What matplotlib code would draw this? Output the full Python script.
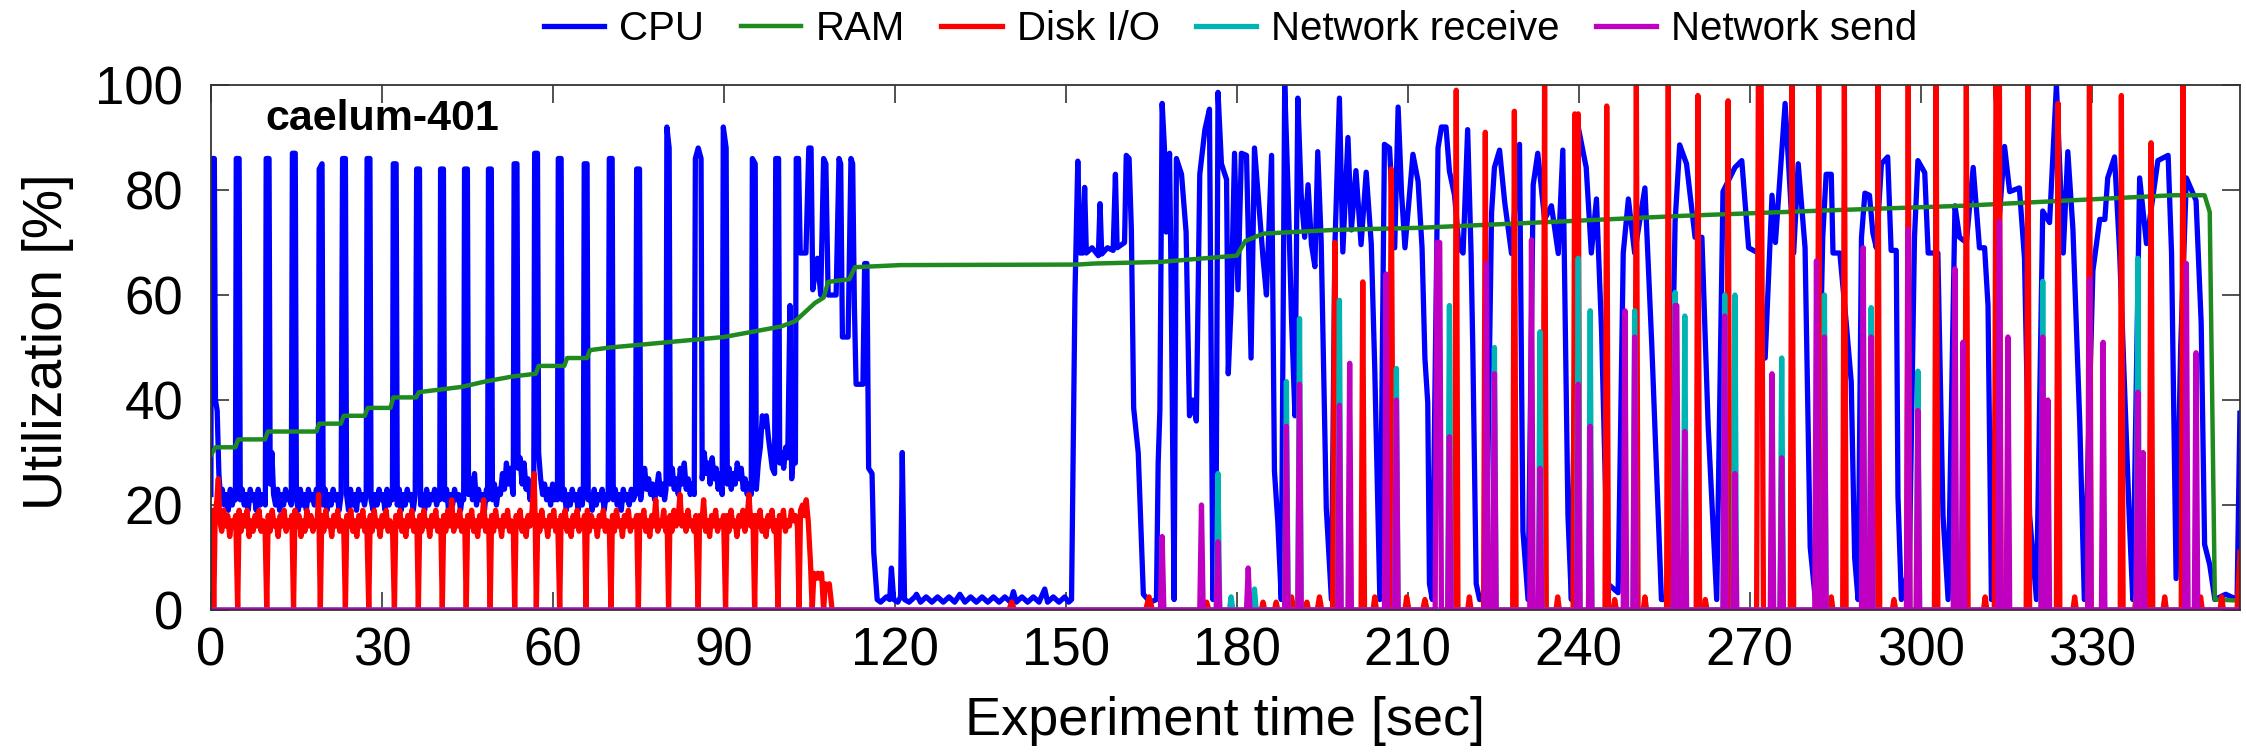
import matplotlib
matplotlib.use("Agg")
import matplotlib.pyplot as plt

plt.rcParams['font.family'] = ['Liberation Sans', 'DejaVu Sans']

# ---- data: (time [sec], utilization [%]) ----
cpu = [
    (0.0, 22), (0.1, 86), (0.6, 86), (0.8, 40), (1.1, 38), (1.4, 26), (1.7, 21), (2.0, 23), (2.35, 20), (2.7, 22),
    (3.05, 19), (3.4, 23), (3.75, 20), (4.1, 22), (4.3, 21), (4.45, 86), (4.95, 86), (5.15, 21), (5.5, 23),
    (5.85, 20), (6.2, 22), (6.55, 19), (6.9, 23), (7.25, 21), (7.6, 22), (7.95, 19), (8.3, 23), (8.65, 20),
    (9.0, 22), (9.35, 21), (9.55, 20), (9.7, 86), (10.2, 86), (10.4, 24), (10.7, 30), (11.0, 22), (11.35, 20),
    (11.7, 23), (12.05, 19), (12.4, 22), (12.75, 20), (13.1, 23), (13.45, 21), (13.8, 22), (14.1, 20),
    (14.3, 87), (14.8, 87), (15.0, 21), (15.35, 19), (15.7, 23), (16.05, 20), (16.4, 22), (16.75, 19),
    (17.1, 23), (17.45, 21), (17.8, 22), (18.15, 20), (18.5, 23), (18.85, 21), (19.0, 84), (19.5, 85),
    (19.7, 20), (20.05, 23), (20.4, 19), (20.75, 22), (21.1, 20), (21.45, 23), (21.8, 21), (22.15, 22),
    (22.5, 19), (22.85, 22), (23.1, 86), (23.6, 86), (23.8, 22), (24.15, 19), (24.5, 23), (24.85, 20),
    (25.2, 22), (25.55, 19), (25.9, 23), (26.25, 21), (26.6, 22), (26.95, 20), (27.25, 22), (27.4, 86),
    (27.9, 86), (28.1, 21), (28.45, 19), (28.8, 22), (29.15, 20), (29.5, 23), (29.85, 21), (30.2, 22),
    (30.55, 19), (30.9, 23), (31.25, 20), (31.6, 22), (31.85, 21), (32.0, 85), (32.5, 85), (32.7, 20),
    (33.05, 23), (33.4, 19), (33.75, 22), (34.1, 20), (34.45, 23), (34.8, 21), (35.15, 22), (35.5, 19),
    (35.85, 22), (36.1, 84), (36.6, 84), (36.8, 20), (37.15, 22), (37.5, 19), (37.85, 23), (38.2, 20),
    (38.55, 22), (38.9, 21), (39.25, 23), (39.6, 20), (39.95, 22), (40.15, 21), (40.3, 84), (40.8, 84),
    (41.0, 21), (41.35, 23), (41.7, 19), (42.05, 22), (42.4, 20), (42.75, 23), (43.1, 21), (43.45, 22),
    (43.8, 19), (44.15, 22), (44.35, 21), (44.5, 84), (45.0, 84), (45.2, 22), (45.55, 25), (45.9, 21),
    (46.25, 26), (46.6, 20), (46.95, 23), (47.3, 21), (47.65, 22), (48.0, 19), (48.35, 23), (48.55, 21),
    (48.7, 84), (49.2, 84), (49.4, 21), (49.75, 24), (50.1, 20), (50.45, 23), (50.8, 22), (51.15, 26),
    (51.5, 23), (51.85, 28), (52.2, 24), (52.55, 27), (52.9, 23), (53.05, 22), (53.2, 85), (53.7, 85),
    (53.9, 27), (54.25, 29), (54.6, 24), (54.95, 28), (55.3, 23), (55.65, 25), (56.0, 21), (56.35, 24),
    (56.65, 23), (56.8, 87), (57.3, 87), (57.5, 30), (57.85, 25), (58.2, 22), (58.55, 24), (58.9, 21),
    (59.25, 23), (59.6, 20), (59.95, 24), (60.3, 21), (60.65, 22), (60.8, 21), (60.95, 86), (61.45, 86),
    (61.65, 21), (62.0, 23), (62.35, 19), (62.7, 22), (63.05, 20), (63.4, 23), (63.75, 21), (64.1, 22),
    (64.45, 19), (64.8, 23), (65.15, 20), (65.35, 22), (65.5, 85), (66.0, 85), (66.2, 21), (66.55, 22),
    (66.9, 19), (67.25, 23), (67.6, 20), (67.95, 22), (68.3, 21), (68.65, 23), (69.0, 19), (69.35, 22),
    (69.7, 21), (69.9, 86), (70.4, 86), (70.6, 21), (70.95, 23), (71.3, 20), (71.65, 22), (72.0, 19),
    (72.35, 23), (72.7, 21), (73.05, 22), (73.4, 20), (73.75, 23), (74.1, 21), (74.5, 22), (74.7, 84),
    (75.2, 84), (75.4, 21), (75.75, 24), (76.1, 27), (76.45, 23), (76.8, 25), (77.15, 22), (77.5, 24),
    (77.85, 21), (78.2, 23), (78.55, 26), (78.9, 22), (79.25, 24), (79.6, 21), (79.85, 23), (80.0, 92),
    (80.4, 88), (80.6, 24), (80.95, 27), (81.3, 23), (81.65, 25), (82.0, 22), (82.35, 27), (82.7, 24),
    (83.05, 28), (83.4, 23), (83.75, 25), (84.1, 22), (84.45, 24), (84.8, 22), (85.0, 86), (85.5, 88),
    (86.0, 86), (86.2, 25), (86.55, 30), (86.9, 26), (87.25, 28), (87.6, 24), (87.95, 29), (88.3, 25),
    (88.65, 27), (89.0, 23), (89.35, 26), (89.7, 22), (89.9, 92), (90.4, 88), (90.6, 24), (90.95, 27),
    (91.3, 23), (91.65, 26), (92.0, 24), (92.35, 28), (92.7, 25), (93.05, 27), (93.4, 23), (93.75, 25),
    (94.1, 22), (94.45, 24), (94.8, 22), (95.0, 86), (95.5, 85), (95.7, 23), (96.05, 28), (96.4, 31),
    (96.75, 37), (97.1, 35), (97.45, 37), (97.8, 33), (98.15, 30), (98.5, 27), (98.9, 26), (99.1, 86),
    (99.6, 86), (99.8, 28), (100.15, 30), (100.5, 27), (100.85, 31), (101.2, 29), (101.6, 58), (101.9, 25),
    (102.25, 30), (102.55, 28), (102.7, 86), (103.1, 86), (103.4, 68), (104.4, 68), (104.9, 88), (105.3, 88),
    (105.6, 61), (106.4, 67), (107.0, 60), (107.5, 86), (107.9, 85), (108.3, 60), (109.7, 60), (110.2, 86),
    (110.5, 85), (110.8, 52), (111.8, 52), (112.3, 86), (112.6, 85), (112.9, 58), (113.2, 43), (114.4, 43),
    (114.7, 66), (115.1, 66), (115.4, 27), (116.0, 26), (116.3, 11), (116.9, 2), (117.5, 1.5), (118.5, 2.5),
    (119.1, 2), (119.4, 8), (119.8, 2), (120.5, 1.5), (121.0, 2.5), (121.3, 30), (121.7, 2), (122.5, 1.5),
    (123.5, 2.5), (123.8, 3), (124.5, 1.5), (125.5, 2.5), (126.5, 1.5), (127.5, 2.5), (128.5, 1.5),
    (129.5, 2.5), (130.5, 1.5), (131.4, 3), (132.3, 1.5), (133.3, 2.5), (134.3, 1.5), (135.3, 2.5),
    (136.3, 1.5), (137.3, 2.5), (138.3, 1.5), (139.3, 2.5), (140.3, 1.5), (140.8, 3.5), (141.3, 1.5),
    (142.3, 2.5), (143.3, 1.5), (144.3, 2.5), (145.3, 1.5), (146.3, 4), (146.8, 1.5), (147.8, 2.5),
    (148.8, 1.5), (149.8, 2.5), (150.5, 1.5), (151.0, 2),
    (151.6, 60), (152.1, 85.5), (152.5, 68), (153.0, 68), (153.3, 80.5), (153.6, 68), (154.6, 69),
    (155.7, 67.5), (156.0, 77.4), (156.3, 67.8), (157.3, 69), (158.3, 68.5), (158.7, 83), (159.0, 69),
    (160.3, 70), (160.6, 86.6), (161.1, 86), (161.5, 72.4), (161.9, 38.5), (162.7, 30), (163.6, 3),
    (164.8, 1.5), (165.9, 2), (166.2, 28), (166.5, 38), (166.9, 96.5), (167.3, 88), (167.6, 72), (168.2, 87),
    (168.5, 60), (169.0, 2), (169.4, 86), (170.3, 83), (171.1, 72), (171.7, 37), (172.3, 40), (172.9, 36),
    (173.5, 83), (174.4, 91.5), (175.2, 95.4), (175.8, 2), (176.4, 26), (176.7, 98.6), (177.3, 85),
    (178.2, 82), (178.5, 45), (179.0, 58), (179.6, 87), (180.2, 61), (180.8, 87), (181.7, 86.6), (182.5, 48),
    (183.1, 88), (183.7, 79.5), (184.6, 67), (185.2, 60), (186.1, 86.6), (186.6, 26.5), (187.2, 16.6),
    (187.8, 2), (188.4, 100), (189.0, 79.5), (189.6, 55.5), (190.2, 37), (190.7, 97.5), (191.3, 79),
    (191.9, 71), (192.5, 81), (193.1, 69.6), (193.7, 65.4), (194.2, 87.3), (194.8, 70.3), (195.7, 19.4),
    (196.6, 2), (197.2, 69), (198.0, 97.5), (198.6, 68.2), (199.5, 90), (200.1, 72.4), (200.9, 83.7),
    (201.8, 69.6), (202.7, 83.4), (203.6, 69.6), (204.2, 46), (205.1, 2), (205.9, 88.7), (206.8, 88),
    (207.7, 69), (208.3, 95.8), (208.9, 79.5), (209.5, 69), (210.9, 86.8), (211.8, 81.7), (212.5, 69),
    (213.0, 48), (213.5, 39.5), (213.8, 5), (214.3, 2), (215.3, 88), (215.9, 92), (216.7, 92), (217.3, 83.6),
    (218.2, 79), (219.0, 69), (219.7, 68), (220.5, 91.5), (221.1, 68), (221.4, 50), (222.0, 5), (222.6, 2),
    (223.7, 2), (224.7, 75.7), (225.2, 84.3), (226.1, 87.6), (227.0, 77.7), (228.2, 67.9), (229.6, 88.7),
    (230.2, 15), (231.1, 2), (232.0, 81), (232.8, 87), (234.0, 74.4), (235.2, 77), (236.4, 67.9),
    (237.2, 87.6), (238.1, 18), (238.7, 2), (239.9, 92), (241.3, 84.3), (242.2, 68), (243.1, 78.3),
    (244.0, 53), (245.1, 5), (246.9, 3.3), (247.8, 68), (248.7, 78.3), (249.8, 68), (251.6, 80.4),
    (252.8, 50.7), (254.5, 2), (255.7, 2), (256.9, 74), (257.7, 88.6), (258.9, 85), (260.4, 71), (261.6, 71),
    (262.7, 35), (264.2, 2), (265.3, 79.7), (267.4, 84.3), (268.6, 85.6), (269.8, 69), (271.5, 68),
    (272.7, 48), (273.9, 79), (274.5, 70), (276.2, 96.5), (277.7, 68), (278.5, 85), (279.7, 69), (280.6, 12),
    (281.5, 2), (282.8, 71), (283.4, 83), (284.3, 83), (284.6, 68), (285.8, 68), (286.9, 55), (287.8, 43.5),
    (288.4, 10), (289.0, 2), (289.6, 71), (290.2, 79.4), (291.0, 79), (291.6, 71.8), (292.2, 69), (293.1, 85),
    (294.2, 86.3), (294.8, 68.5), (295.7, 68.5), (296.0, 21.7), (296.6, 2), (298.0, 8.6), (298.9, 71),
    (299.5, 85.6), (300.7, 83.3), (301.3, 68), (303.0, 68), (303.9, 18), (304.8, 2), (306.0, 77), (306.8, 71),
    (308.0, 70), (309.2, 84.3), (310.3, 69), (311.2, 69), (311.8, 58), (312.4, 2), (313.8, 75), (314.7, 88.3),
    (315.6, 79.7), (317.3, 80.4), (318.2, 67), (319.1, 18), (320.3, 2), (321.4, 76), (322.6, 73.8),
    (323.8, 100), (325.0, 68), (325.8, 87.3), (326.7, 72.5), (327.9, 35.6), (328.7, 2), (330.2, 64.6),
    (331.4, 74.4), (332.3, 74.4), (332.8, 82.3), (334.0, 86.3), (334.9, 68), (336.6, 17), (337.2, 2),
    (338.4, 82.3), (339.6, 69.8), (341.6, 85.6), (343.4, 86.6), (344.0, 68), (344.8, 6), (345.6, 50),
    (346.6, 82.3), (348.3, 78), (349.2, 54.7), (349.8, 12.5), (350.7, 8.6), (351.6, 2), (353.5, 3),
    (355.5, 2), (356.0, 37.5),
]

ram = [
    (0.0, 29.5), (0.8, 31), (4.3, 31), (4.8, 32.5), (9.5, 32.5), (10.0, 34), (18.5, 34), (19.0, 35.5),
    (22.8, 35.5), (23.3, 37), (27.0, 37), (27.5, 38.5), (31.5, 38.5), (32.0, 40.5), (36.0, 40.5), (36.5, 41.5),
    (44.0, 42.5), (48.0, 43.5), (53.0, 44.5), (57.0, 45), (57.5, 46.5), (62.0, 46.5), (62.5, 48), (66.0, 48),
    (66.5, 49.5), (70.0, 50), (75.0, 50.5), (80.0, 51), (85.0, 51.5), (90.0, 52), (95.0, 53), (100.0, 54),
    (102.5, 55), (104.0, 56.5), (106.0, 58.5), (107.5, 59.5), (108.3, 62.5), (112.0, 63), (113.0, 65.3),
    (121.0, 65.7), (152.0, 65.8), (155.0, 66), (166.5, 66.3), (180.0, 67.5), (181.5, 70.3), (184.7, 71.7),
    (197.0, 72.4), (212.0, 72.8), (238.7, 74.1), (258.6, 75.1), (283.2, 76.1), (307.4, 77), (344.2, 79),
    (349.8, 79), (350.7, 75.8), (351.6, 2), (356.0, 1.8),
]

disk = [
    (0.0, 0), (0.2, 19), (0.5, 0), (0.75, 18), (1.05, 21), (1.3, 25), (1.55, 17), (1.9, 15), (2.25, 19),
    (2.6, 16), (2.95, 18), (3.3, 14), (3.65, 17), (4.0, 16), (4.35, 18), (4.7, 0), (4.95, 19), (5.3, 15),
    (5.65, 18), (6.0, 16), (6.35, 19), (6.7, 14), (7.05, 17), (7.4, 15), (7.75, 18), (8.1, 16), (8.45, 19),
    (8.8, 15), (9.15, 17), (9.5, 16), (9.8, 0), (10.05, 18), (10.4, 15), (10.75, 19), (11.1, 16), (11.45, 17),
    (11.8, 14), (12.15, 18), (12.5, 16), (12.85, 19), (13.2, 15), (13.55, 17), (13.9, 16), (14.2, 18),
    (14.5, 0), (14.75, 19), (15.1, 16), (15.45, 18), (15.8, 14), (16.15, 17), (16.5, 15), (16.85, 19),
    (17.2, 16), (17.55, 18), (17.9, 15), (18.25, 17), (18.6, 16), (18.9, 22), (19.2, 0), (19.45, 18),
    (19.8, 15), (20.15, 19), (20.5, 16), (20.85, 17), (21.2, 14), (21.55, 18), (21.9, 16), (22.25, 19),
    (22.6, 15), (22.95, 17), (23.3, 16), (23.6, 0), (23.85, 18), (24.2, 16), (24.55, 19), (24.9, 15),
    (25.25, 17), (25.6, 14), (25.95, 18), (26.3, 16), (26.65, 19), (27.0, 15), (27.35, 17), (27.7, 0),
    (27.95, 18), (28.3, 15), (28.65, 19), (29.0, 16), (29.35, 17), (29.7, 14), (30.05, 18), (30.4, 16),
    (30.75, 19), (31.1, 15), (31.45, 17), (31.85, 16), (32.2, 0), (32.45, 18), (32.8, 16), (33.15, 19),
    (33.5, 15), (33.85, 17), (34.2, 14), (34.55, 18), (34.9, 16), (35.25, 19), (35.6, 15), (35.95, 17),
    (36.15, 16), (36.4, 0), (36.65, 18), (37.0, 15), (37.35, 19), (37.7, 16), (38.05, 17), (38.4, 14),
    (38.75, 18), (39.1, 16), (39.45, 19), (39.8, 15), (40.15, 17), (40.35, 16), (40.6, 0), (40.85, 18),
    (41.2, 15), (41.55, 19), (41.9, 16), (42.25, 21), (42.6, 15), (42.95, 18), (43.3, 16), (43.65, 19),
    (44.0, 15), (44.35, 17), (44.55, 16), (44.8, 0), (45.05, 18), (45.4, 16), (45.75, 19), (46.1, 15),
    (46.45, 17), (46.8, 14), (47.15, 18), (47.5, 16), (47.85, 21), (48.2, 15), (48.55, 17), (48.75, 16),
    (49.0, 0), (49.25, 18), (49.6, 15), (49.95, 19), (50.3, 16), (50.65, 17), (51.0, 14), (51.35, 18),
    (51.7, 16), (52.05, 19), (52.4, 15), (52.75, 17), (53.05, 16), (53.3, 0), (53.55, 18), (53.9, 16),
    (54.25, 19), (54.6, 15), (54.95, 17), (55.3, 14), (55.65, 18), (56.0, 16), (56.35, 19), (56.7, 26),
    (56.9, 17), (57.1, 0), (57.35, 18), (57.7, 15), (58.05, 19), (58.4, 16), (58.75, 17), (59.1, 14),
    (59.45, 18), (59.8, 16), (60.15, 19), (60.5, 15), (60.85, 17), (61.2, 0), (61.45, 18), (61.8, 16),
    (62.15, 19), (62.5, 15), (62.85, 17), (63.2, 14), (63.55, 18), (63.9, 16), (64.25, 19), (64.6, 15),
    (64.95, 17), (65.3, 16), (65.55, 18), (65.8, 0), (66.05, 19), (66.4, 15), (66.75, 18), (67.1, 16),
    (67.45, 17), (67.8, 14), (68.15, 18), (68.5, 16), (68.85, 19), (69.2, 15), (69.55, 17), (69.9, 16),
    (70.2, 0), (70.45, 18), (70.8, 15), (71.15, 19), (71.5, 16), (71.85, 17), (72.2, 14), (72.55, 18),
    (72.9, 16), (73.25, 19), (73.6, 15), (73.95, 17), (74.3, 16), (74.7, 18), (75.0, 0), (75.25, 18),
    (75.6, 16), (75.95, 19), (76.3, 15), (76.65, 17), (77.0, 14), (77.35, 18), (77.7, 16), (78.05, 21),
    (78.4, 15), (78.75, 17), (79.1, 16), (79.45, 19), (79.8, 15), (80.05, 17), (80.3, 0), (80.55, 18),
    (80.9, 15), (81.25, 19), (81.6, 16), (81.95, 17), (82.3, 22), (82.65, 16), (83.0, 18), (83.35, 15),
    (83.7, 19), (84.05, 16), (84.4, 17), (84.75, 15), (85.1, 18), (85.5, 0), (85.75, 18), (86.1, 16),
    (86.45, 21), (86.8, 15), (87.15, 17), (87.5, 14), (87.85, 18), (88.2, 16), (88.55, 19), (88.9, 15),
    (89.25, 17), (89.6, 16), (89.95, 18), (90.3, 0), (90.55, 18), (90.9, 15), (91.25, 19), (91.6, 16),
    (91.95, 17), (92.3, 14), (92.65, 18), (93.0, 16), (93.35, 19), (93.7, 15), (94.05, 17), (94.4, 22),
    (94.75, 16), (95.1, 18), (95.4, 0), (95.65, 18), (96.0, 16), (96.35, 19), (96.7, 15), (97.05, 17),
    (97.4, 14), (97.75, 18), (98.1, 16), (98.45, 19), (98.8, 15), (99.15, 17), (99.5, 0), (99.75, 18),
    (100.1, 16), (100.45, 19), (100.8, 15), (101.15, 17), (101.5, 16), (101.85, 19), (102.2, 17),
    (102.55, 18), (102.9, 16), (103.2, 0), (103.45, 19), (103.8, 20), (104.1, 18), (104.45, 21), (104.8, 17),
    (105.2, 9), (105.5, 0), (105.8, 7), (106.15, 6), (106.5, 7), (106.85, 6), (107.15, 7), (107.5, 0),
    (107.8, 5), (108.15, 4), (108.5, 5), (109.0, 0),
    (140.0, 0), (140.5, 1.5), (141.0, 0), (164.0, 0), (164.6, 2.5), (165.2, 0), (174.3, 0), (174.7, 1.5),
    (175.1, 0), (184.3, 0), (184.6, 1.5), (184.9, 0), (186.6, 0), (186.9, 1.5), (187.2, 0), (189.2, 0),
    (189.6, 2.5), (190.0, 0), (192.0, 0), (192.3, 1.5), (192.6, 0), (194.1, 0), (194.5, 2.5), (194.9, 0),
    (196.8, 0), (197.2, 70), (197.6, 0), (201.8, 0), (202.1, 62.5), (202.4, 0), (203.9, 0), (204.2, 2.5),
    (204.5, 0), (206.7, 0), (207.1, 84), (207.5, 0), (209.5, 0), (209.8, 2.5), (210.2, 0), (212.6, 0),
    (213.0, 2), (213.4, 0), (218.2, 0), (218.5, 99), (218.8, 0), (220.5, 0), (220.8, 2.5), (221.1, 0),
    (223.3, 0), (223.6, 91), (223.9, 0), (228.4, 0), (228.7, 95), (229.0, 0), (233.7, 0), (234.0, 100),
    (234.3, 0), (236.0, 0), (236.3, 2.5), (236.6, 0), (239.0, 0), (239.3, 94.5), (239.6, 80), (239.9, 94.5),
    (240.2, 0), (244.6, 0), (244.9, 96), (245.2, 0), (246.0, 0), (246.3, 2), (246.6, 0), (249.8, 0),
    (250.1, 100), (250.4, 0), (251.3, 0), (251.6, 2.5), (251.9, 0), (255.4, 0), (255.7, 100), (256.0, 0),
    (260.6, 0), (260.9, 98), (261.2, 0), (262.0, 0), (262.2, 2), (262.5, 0), (265.9, 0), (266.2, 97),
    (266.5, 0), (271.2, 0), (271.5, 100), (272.0, 100), (272.4, 0), (277.1, 0), (277.4, 100), (277.7, 0),
    (281.8, 0), (282.1, 100), (282.4, 0), (284.0, 0), (284.3, 2.5), (284.6, 0), (286.3, 0), (286.6, 100),
    (286.9, 0), (292.2, 0), (292.5, 100), (292.8, 0), (295.0, 0), (295.3, 2), (295.6, 0), (297.5, 0),
    (297.8, 100), (298.1, 0), (302.4, 0), (302.7, 100), (303.0, 0), (307.7, 0), (308.0, 100), (308.3, 0),
    (311.0, 0), (311.3, 2.5), (311.6, 0), (312.9, 0), (313.2, 100), (313.5, 90), (313.8, 100), (314.1, 0),
    (318.5, 0), (318.8, 100), (319.1, 0), (321.6, 0), (321.9, 2.5), (322.2, 0), (323.8, 0), (324.1, 96.5),
    (324.4, 0), (326.7, 0), (327.0, 2.5), (327.3, 0), (329.3, 0), (329.6, 100), (329.9, 0), (335.0, 0),
    (335.2, 98), (335.5, 0), (337.5, 0), (337.8, 2.5), (338.1, 0), (340.1, 0), (340.4, 89), (340.7, 0),
    (342.5, 0), (342.8, 2.5), (343.1, 0), (345.7, 0), (346.0, 100), (346.3, 0), (348.8, 0), (349.1, 2.5),
    (349.4, 0), (352.5, 0), (352.8, 2.5), (353.1, 0), (355.5, 0), (356.0, 11),
]

net_recv = [
    (0.0, 0), (176.4, 0), (176.7, 26), (177.0, 0), (178.7, 0), (179.0, 2.5), (179.3, 0), (182.8, 0), (183.1, 4),
    (183.4, 0), (188.4, 0), (188.7, 43.5), (189.0, 0), (190.7, 0), (191.0, 55.5), (191.3, 0), (197.7, 0),
    (198.0, 59), (198.3, 0), (207.7, 0), (208.0, 46), (208.3, 0), (217.0, 0), (217.3, 58), (217.6, 0),
    (224.9, 0), (225.2, 50), (225.5, 0), (232.9, 0), (233.2, 53), (233.5, 0), (239.6, 0), (239.9, 67),
    (240.2, 0), (241.7, 0), (242.0, 57), (242.3, 0), (249.5, 0), (249.8, 57), (250.1, 0), (256.6, 0),
    (256.9, 60.5), (257.2, 0), (258.3, 0), (258.6, 56), (258.9, 0), (265.3, 0), (265.6, 60), (265.9, 0),
    (267.1, 0), (267.4, 60), (267.7, 0), (275.3, 0), (275.6, 48), (275.9, 0), (282.8, 0), (283.1, 60),
    (283.4, 0), (291.0, 0), (291.3, 57.6), (291.6, 0), (299.2, 0), (299.5, 45.5), (299.8, 0), (321.1, 0),
    (321.4, 62.6), (321.7, 0), (337.8, 0), (338.1, 67), (338.4, 0), (356.0, 0),
]

net_send = [
    (0.0, 0), (166.6, 0), (166.9, 14), (167.2, 0), (173.5, 0), (173.8, 20), (174.1, 0), (176.4, 0), (176.7, 13),
    (177.0, 0), (181.7, 0), (182.0, 8), (182.3, 0), (188.4, 0), (188.7, 35), (189.0, 0), (190.7, 0), (191.0, 43),
    (191.3, 0), (197.7, 0), (198.0, 39), (198.3, 0), (199.5, 0), (199.8, 47), (200.1, 0), (205.9, 0),
    (206.2, 64), (206.5, 0), (207.7, 0), (208.0, 40), (208.3, 0), (214.8, 0), (215.1, 70), (215.6, 70),
    (215.9, 0), (217.0, 0), (217.3, 33), (217.6, 0), (223.5, 0), (223.8, 66), (224.1, 0), (224.9, 0),
    (225.2, 45), (225.5, 0), (231.4, 0), (231.7, 70.5), (232.0, 0), (232.9, 0), (233.2, 27), (233.5, 0),
    (239.6, 0), (239.9, 43), (240.2, 0), (241.7, 0), (242.0, 35), (242.3, 0), (247.8, 0), (248.1, 57),
    (248.4, 0), (249.5, 0), (249.8, 52), (250.1, 0), (256.6, 0), (256.9, 58), (257.2, 58), (257.5, 0),
    (258.3, 0), (258.6, 34), (258.9, 0), (265.3, 0), (265.6, 56), (265.9, 0), (267.1, 0), (267.4, 26),
    (267.7, 0), (273.6, 0), (273.9, 45), (274.2, 0), (275.3, 0), (275.6, 29), (275.9, 0), (281.4, 0),
    (281.7, 66.5), (282.0, 0), (282.8, 0), (283.1, 52), (283.4, 0), (289.6, 0), (289.9, 69), (290.2, 0),
    (291.0, 0), (291.3, 52), (291.6, 0), (297.5, 0), (297.8, 72.5), (298.1, 0), (299.2, 0), (299.5, 38),
    (299.8, 0), (305.7, 0), (306.0, 65), (306.3, 0), (307.1, 0), (307.4, 51), (307.7, 0), (313.5, 0),
    (313.8, 74), (314.1, 0), (315.0, 0), (315.3, 52), (315.6, 0), (321.1, 0), (321.4, 52), (321.7, 0),
    (322.0, 0), (322.3, 40), (322.6, 0), (329.3, 0), (329.6, 63), (329.9, 0), (331.7, 0), (332.0, 51),
    (332.3, 0), (337.8, 0), (338.1, 41.5), (338.4, 0), (338.7, 0), (339.0, 30), (339.3, 0), (346.3, 0),
    (346.6, 66), (346.9, 0), (348.0, 0), (348.3, 49), (348.6, 0), (356.0, 0),
]

series = [
    ("CPU", cpu, "#0000ff", 3.8),
    ("RAM", ram, "#1f8a1f", 3.2),
    ("Disk I/O", disk, "#ff0000", 3.8),
    ("Network receive", net_recv, "#00b4b4", 3.8),
    ("Network send", net_send, "#c000c0", 3.8),
]

fig = plt.figure(figsize=(22.46, 7.55), dpi=100)
ax = fig.add_axes([0.0939, 0.192, 0.9034, 0.6954])

for name, pts, col, w in series:
    t, v = zip(*pts)
    ax.plot(t, v, color=col, lw=w, label=name)

ax.set_xlim(0, 356)
ax.set_ylim(0, 100)
ax.set_xticks(range(0, 331, 30))
ax.set_yticks(range(0, 101, 20))
ax.tick_params(direction="in", top=True, right=True, length=13, width=1.2,
               labelsize=38, color="#333333")
ax.tick_params(axis="x", pad=12)
ax.tick_params(axis="y", pad=20)
for s in ax.spines.values():
    s.set_linewidth(1.3)
    s.set_color("#333333")

ax.set_xlabel("Experiment time [sec]", fontsize=39, labelpad=14)
ax.set_ylabel("Utilization [%]", fontsize=40, va="center")
ax.yaxis.set_label_coords(-0.0803, 0.512)

ax.text(0.027, 0.935, "caelum-401", transform=ax.transAxes, fontsize=31,
        fontweight="bold", va="center", ha="left")

fig.legend(loc="center", bbox_to_anchor=(0.548, 0.962), ncol=5, frameon=False,
           fontsize=29, handlelength=1.5, handletextpad=0.37, columnspacing=0.9)

fig.savefig("out.png", dpi=100)
